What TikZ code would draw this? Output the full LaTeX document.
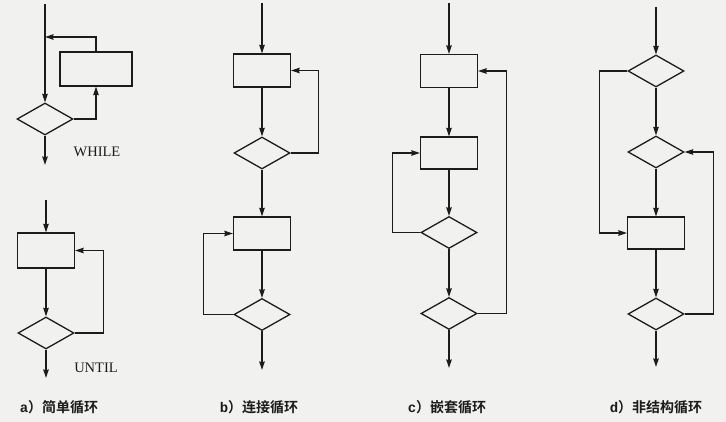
\documentclass[tikz,border=0pt]{standalone}
\usepackage{fontspec}
\setmainfont{Liberation Serif}
\newfontfamily\cjk{Noto Sans CJK SC}[BoldFont={Noto Sans CJK SC Bold}]
\newfontfamily\capfont{Liberation Mono}
\definecolor{paper}{RGB}{241,241,239}
\definecolor{ink}{RGB}{28,28,28}
\usetikzlibrary{arrows.meta,positioning,shapes.geometric}

\begin{document}
\begin{tikzpicture}[x=1pt, y=-1pt,
    flow/.style={draw=ink, line width=1.3pt, -{Stealth[length=8.5pt,width=5.5pt,inset=0.8pt]}},
    body/.style={draw=ink, line width=1.3pt, rectangle, minimum width=57pt, minimum height=33pt, inner sep=0pt},
    test/.style={draw=ink, line width=1.3pt, diamond, minimum width=56pt, minimum height=32pt, inner sep=0pt},
    kw/.style={font=\fontsize{14.5}{15}\selectfont, text=ink},
    caption/.style={font=\fontsize{14}{15}\selectfont, text=ink}]
  \fill[paper] (0,0) rectangle (726,422);
  \useasboundingbox (0,0) rectangle (726,422);

  % a) while / until
  \node[body, minimum width=72pt, minimum height=34pt] (aBody) at (96,69) {};
  \node[test] (aTest) at (45,119) {};
  \coordinate (aIn) at (45,4);
  \coordinate (aJoin) at (45,37);
  \coordinate (aOut) at (45,165);
  \draw[flow] (aIn) -- (aTest.north);
  \draw[flow] (aTest.east) -| (aBody.south);
  \draw[flow] (aBody.north) |- (aJoin);
  \draw[flow] (aTest.south) -- (aOut);
  \node[kw] (aWhile) at (97,152) {WHILE};

  \node[body, minimum height=35pt] (uBody) at (46,250.5) {};
  \node[test] (uTest) at (46,333) {};
  \coordinate (uIn) at (46,200);
  \coordinate (uOut) at (46,378);
  \draw[flow] (uIn) -- (uBody.north);
  \draw[flow] (uBody.south) -- (uTest.north);
  \draw[flow] (uTest.east) -- ++(29,0) |- (uBody.east);
  \draw[flow] (uTest.south) -- (uOut);
  \node[kw] (aUntil) at (96,368) {UNTIL};
  \node[caption] (aCap) at (59,407) {{\capfont\bfseries a}{\cjk\bfseries ）简单循环}};

  % b) concatenated loops
  \node[body] (bBody1) at (262,70.5) {};
  \node[test] (bTest1) at (262,153) {};
  \node[body] (bBody2) at (262,233.5) {};
  \node[test] (bTest2) at (262,314.5) {};
  \coordinate (bIn) at (262,3);
  \coordinate (bOut) at (262,370);
  \draw[flow] (bIn) -- (bBody1.north);
  \draw[flow] (bBody1.south) -- (bTest1.north);
  \draw[flow] (bTest1.east) -- ++(28,0) |- (bBody1.east);
  \draw[flow] (bTest1.south) -- (bBody2.north);
  \draw[flow] (bBody2.south) -- (bTest2.north);
  \draw[flow] (bTest2.west) -- ++(-30,0) |- (bBody2.west);
  \draw[flow] (bTest2.south) -- (bOut);
  \node[caption] (bCap) at (259,407) {{\capfont\bfseries b}{\cjk\bfseries ）连接循环}};

  % c) nested loops
  \node[body] (cBody1) at (449,71) {};
  \node[body, minimum height=32pt] (cBody2) at (449,153) {};
  \node[test] (cTest1) at (449,232.5) {};
  \node[test] (cTest2) at (449,313.5) {};
  \coordinate (cIn) at (449,3);
  \coordinate (cOut) at (449,368);
  \draw[flow] (cIn) -- (cBody1.north);
  \draw[flow] (cBody1.south) -- (cBody2.north);
  \draw[flow] (cBody2.south) -- (cTest1.north);
  \draw[flow] (cTest1.west) -- ++(-28,0) |- (cBody2.west);
  \draw[flow] (cTest1.south) -- (cTest2.north);
  \draw[flow] (cTest2.east) -- ++(29,0) |- (cBody1.east);
  \draw[flow] (cTest2.south) -- (cOut);
  \node[caption] (cCap) at (447,407) {{\capfont\bfseries c}{\cjk\bfseries ）嵌套循环}};

  % d) unstructured loop
  \node[test] (dTest1) at (656,71) {};
  \node[test] (dTest2) at (656,152) {};
  \node[body, minimum height=32pt] (dBody) at (656,233) {};
  \node[test] (dTest3) at (656,314) {};
  \coordinate (dIn) at (656,7);
  \coordinate (dOut) at (656,367);
  \draw[flow] (dIn) -- (dTest1.north);
  \draw[flow] (dTest1.south) -- (dTest2.north);
  \draw[flow] (dTest2.south) -- (dBody.north);
  \draw[flow] (dTest1.west) -- ++(-28,0) |- (dBody.west);
  \draw[flow] (dBody.south) -- (dTest3.north);
  \draw[flow] (dTest3.east) -- ++(29,0) |- (dTest2.east);
  \draw[flow] (dTest3.south) -- (dOut);
  \node[caption] (dCap) at (656,407) {{\capfont\bfseries d}{\cjk\bfseries ）非结构循环}};
\end{tikzpicture}
\end{document}
